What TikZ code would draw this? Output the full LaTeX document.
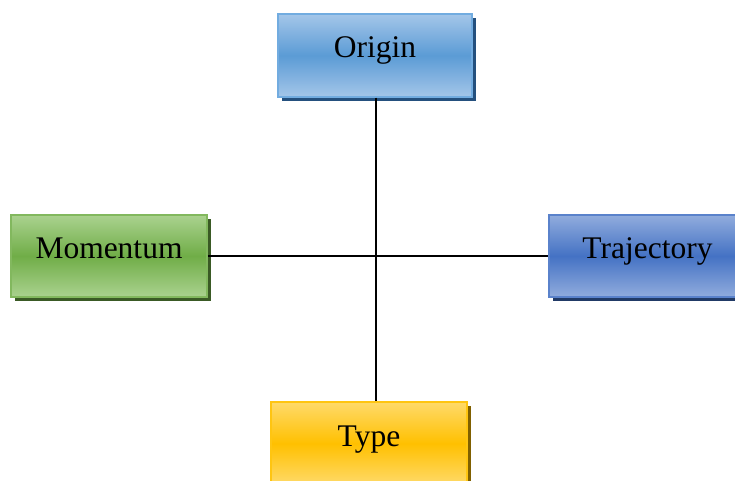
\documentclass[tikz,border=0pt]{standalone}
\usepackage{fontspec}
\setmainfont{Liberation Serif}
\usetikzlibrary{shadows}
\definecolor{blueTop}{HTML}{A4C6E9}
\definecolor{blueMid}{HTML}{5B9BD5}
\definecolor{blueEdge}{HTML}{72ACE0}
\definecolor{blueShadow}{HTML}{24507E}
\definecolor{greenTop}{HTML}{AAD28F}
\definecolor{greenMid}{HTML}{70AD47}
\definecolor{greenEdge}{HTML}{82B85E}
\definecolor{greenShadow}{HTML}{3A5A25}
\definecolor{navyTop}{HTML}{91ACDD}
\definecolor{navyMid}{HTML}{4472C4}
\definecolor{navyEdge}{HTML}{5A82CB}
\definecolor{navyShadow}{HTML}{213A66}
\definecolor{goldTop}{HTML}{FFDA6A}
\definecolor{goldMid}{HTML}{FFC000}
\definecolor{goldEdge}{HTML}{FFC511}
\definecolor{goldShadow}{HTML}{806000}
\tikzset{
  x=1pt, y=-1pt,
  card/.style n args={4}{
    rectangle, minimum width=196pt, minimum height=82pt, inner sep=0pt,
    draw=#3, line width=1.5pt,
    top color=#1, bottom color=#1, middle color=#2,
    drop shadow={shadow xshift=4pt, shadow yshift=-4pt, fill=#4, opacity=1},
    font=\fontsize{31.5}{36}\selectfont, text height=16pt, text depth=11pt
  },
  link/.style={line width=2pt, black}
}
\begin{document}
\begin{tikzpicture}
  \clip (0,0) rectangle (735,481);
  \fill[white] (0,0) rectangle (735,481);
  % the four cards
  \node[card={blueTop}{blueMid}{blueEdge}{blueShadow}, minimum width=194pt, minimum height=83pt]
    (origin) at (375,55.5) {Origin};
  \node[card={greenTop}{greenMid}{greenEdge}{greenShadow}]
    (momentum) at (109,256) {Momentum};
  \node[card={navyTop}{navyMid}{navyEdge}{navyShadow}, minimum width=197pt]
    (trajectory) at (647.5,256) {Trajectory};
  \node[card={goldTop}{goldMid}{goldEdge}{goldShadow}, minimum height=83pt]
    (type) at (369,443.5) {Type};
  % connecting cross
  \draw[link] ([xshift=1pt]origin.south) -- ([xshift=1pt]origin.south |- type.north);
  \draw[link] (momentum.east) -- (trajectory.west);
\end{tikzpicture}
\end{document}
